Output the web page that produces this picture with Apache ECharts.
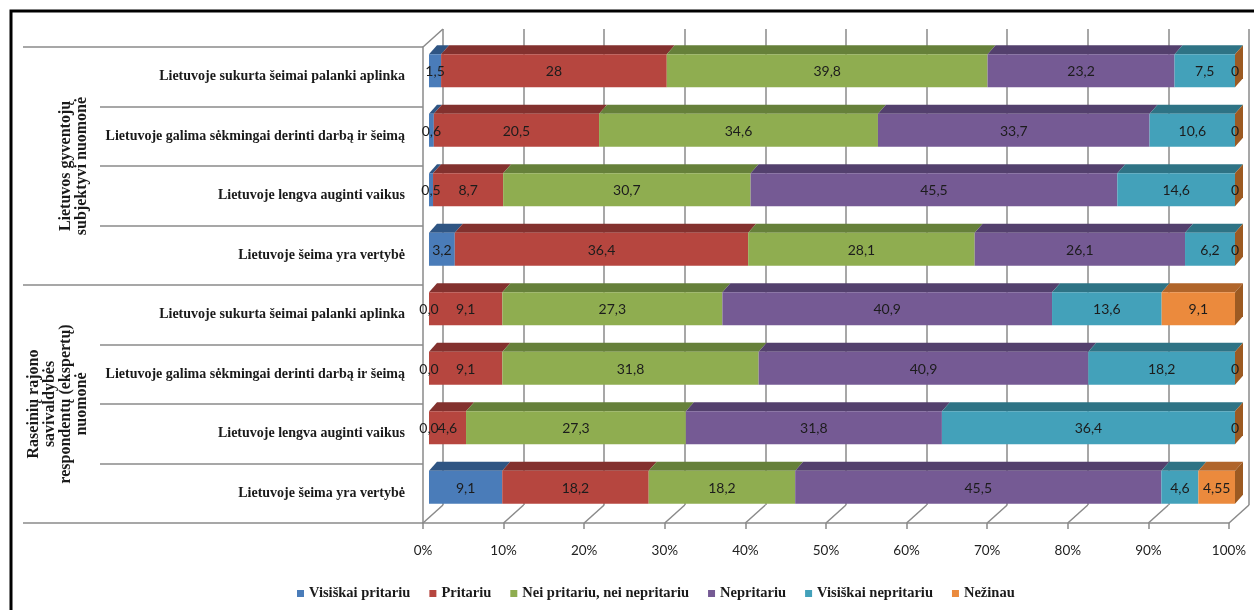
<!DOCTYPE html>
<html>
<head>
<meta charset="utf-8">
<script src="https://cdn.jsdelivr.net/npm/echarts@6/dist/echarts.min.js"></script>
<style>
  html, body { margin: 0; padding: 0; background: #fff; }
  #chart { width: 1254px; height: 610px; }
</style>
</head>
<body>
<div id="chart"></div>
<script>
// Statements (rows, top to bottom) and the two respondent groups
const statements = [
  'Lietuvoje sukurta šeimai palanki aplinka',
  'Lietuvoje galima sėkmingai derinti darbą ir šeimą',
  'Lietuvoje lengva auginti vaikus',
  'Lietuvoje šeima yra vertybė'
];
const rows = statements.concat(statements);
const groups = [
  'Lietuvos gyventojų\nsubjektyvi nuomonė',
  'Raseinių rajono\nsavivaldybės\nrespondentų (ekspertų)\nnuomonė'
];

// Answer shares, %, one array per answer, in row order (kept as written in the table)
const visiskaiPritariu   = ['1.5', '0.6', '0.5', '3.2', '0.0', '0.0', '0.0', '9.1'];
const pritariu           = ['28', '20.5', '8.7', '36.4', '9.1', '9.1', '4.6', '18.2'];
const neiPritariuNei     = ['39.8', '34.6', '30.7', '28.1', '27.3', '31.8', '27.3', '18.2'];
const nepritariu         = ['23.2', '33.7', '45.5', '26.1', '40.9', '40.9', '31.8', '45.5'];
const visiskaiNepritariu = ['7.5', '10.6', '14.6', '6.2', '13.6', '18.2', '36.4', '4.6'];
const nezinau            = ['0', '0', '0', '0', '9.1', '0', '0', '4.55'];

const answerNames = ['Visiškai pritariu', 'Pritariu', 'Nei pritariu, nei nepritariu',
                     'Nepritariu', 'Visiškai nepritariu', 'Nežinau'];
const answerValues = [visiskaiPritariu, pritariu, neiPritariuNei, nepritariu, visiskaiNepritariu, nezinau];

const axisTicks = [0, 10, 20, 30, 40, 50, 60, 70, 80, 90, 100];

// Face colours: front, top, side
const frontColors = ['#4a7cb9', '#b6463f', '#8fad50', '#755a94', '#43a1ba', '#eb8a3d'];
const topColors   = ['#2f5583', '#83312e', '#66803a', '#53406d', '#2e7385', '#b0652b'];
const sideColor   = '#9c5a22';

const GRID_GRAY = '#8a8a8a';
// 3D look: depth offset of the back wall and of the bars within the box
const WALL_DX = 20, WALL_DY = -18;
const BAR_DX = 6, BAR_DY = -6;
const TOP_DX = 8, TOP_DY = -9;
const BAR_RATIO = 0.555;

// 100% stacked extents per row
const totals = rows.map((_, r) => answerValues.reduce((s, arr) => s + Number(arr[r]), 0));
const stacked = answerValues.map(() => []);
rows.forEach((_, r) => {
  let cum = 0;
  answerValues.forEach((arr, s) => {
    const v = Number(arr[r]);
    const start = cum / totals[r] * 100;
    cum += v;
    const end = cum / totals[r] * 100;
    stacked[s].push([r, start, end]);
  });
});

function barRenderer(s) {
  const last = s === answerValues.length - 1;
  return function (params, api) {
    const row = api.value(0);
    const a = api.coord([api.value(1), row]);
    const b = api.coord([api.value(2), row]);
    const h = api.size([0, 1])[1] * BAR_RATIO;
    const x0 = a[0] + BAR_DX, x1 = b[0] + BAR_DX;
    const yc = a[1] + BAR_DY;
    const yT = yc - h / 2, yB = yc + h / 2;
    const children = [];
    if (x1 - x0 > 0.05) {
      children.push({
        type: 'polygon',
        shape: { points: [[x0, yT], [x1, yT], [x1 + TOP_DX, yT + TOP_DY], [x0 + TOP_DX, yT + TOP_DY]] },
        style: { fill: topColors[s] }
      });
      children.push({
        type: 'rect',
        shape: { x: x0, y: yT, width: x1 - x0, height: h },
        style: { fill: frontColors[s] }
      });
    }
    if (last) {
      children.push({
        type: 'polygon',
        shape: { points: [[x1, yT], [x1 + TOP_DX, yT + TOP_DY], [x1 + TOP_DX, yB + TOP_DY], [x1, yB]] },
        style: { fill: sideColor }
      });
    }
    children.push({
      type: 'text',
      z2: 100,
      style: {
        text: answerValues[s][params.dataIndex].replace('.', ','),
        x: (x0 + x1) / 2, y: yc + 1,
        align: 'center', verticalAlign: 'middle',
        font: '14px Lato', fill: '#1c1c1c'
      }
    });
    return { type: 'group', children: children };
  };
}

// Floor lines running back from each tick, plus the top edge of the side wall
function floorRenderer(params, api) {
  const cs = params.coordSys;
  const x = api.coord([api.value(0), 0])[0];
  const yb = cs.y + cs.height;
  const children = [{
    type: 'line',
    shape: { x1: x, y1: yb, x2: x + WALL_DX, y2: yb + WALL_DY },
    style: { stroke: GRID_GRAY, lineWidth: 1.5 }
  }];
  if (params.dataIndex === 0) {
    children.push({
      type: 'line',
      shape: { x1: cs.x, y1: cs.y, x2: cs.x + WALL_DX, y2: cs.y + WALL_DY },
      style: { stroke: GRID_GRAY, lineWidth: 1.5 }
    });
  }
  return { type: 'group', children: children };
}

const series = [{
  type: 'custom',
  name: 'floor',
  xAxisIndex: 0, yAxisIndex: 0,
  silent: true,
  data: axisTicks.map(v => [v]),
  encode: { x: 0 },
  renderItem: floorRenderer,
  z: 1
}];
answerNames.forEach((name, s) => {
  series.push({
    type: 'custom',
    name: name,
    xAxisIndex: 0, yAxisIndex: 0,
    itemStyle: { color: frontColors[s] },
    data: stacked[s],
    encode: { x: [1, 2], y: 0 },
    renderItem: barRenderer(s),
    z: 3
  });
});

const chart = echarts.init(document.getElementById('chart'), null, { renderer: 'canvas' });
chart.setOption({
  animation: false,
  backgroundColor: '#ffffff',
  graphic: [{
    type: 'rect',
    shape: { x: 11, y: 11, width: 1250, height: 640 },
    style: { fill: 'none', stroke: '#000', lineWidth: 3 },
    silent: true
  }],
  grid: [
    { left: 423, top: 47, width: 806, height: 476 },
    { left: 423 + WALL_DX, top: 47 + WALL_DY, width: 806, height: 476 }
  ],
  xAxis: [{
    gridIndex: 0, type: 'value', min: 0, max: 100, interval: 10,
    axisLine: { show: true, lineStyle: { color: GRID_GRAY, width: 1.5 } },
    axisTick: { show: true, length: 6, lineStyle: { color: GRID_GRAY, width: 1.5 } },
    axisLabel: { formatter: '{value}%', margin: 21, fontSize: 13.5, fontFamily: 'Lato', color: '#222' },
    splitLine: { show: false }
  }, {
    gridIndex: 1, type: 'value', min: 0, max: 100, interval: 10,
    axisLine: { show: false }, axisTick: { show: false }, axisLabel: { show: false },
    splitLine: { show: true, lineStyle: { color: GRID_GRAY, width: 1.5 } }
  }],
  yAxis: [{
    gridIndex: 0, type: 'category', data: rows, inverse: true,
    axisLine: { show: true, lineStyle: { color: GRID_GRAY, width: 1.5 } },
    axisTick: { show: true, length: 323, lineStyle: { color: GRID_GRAY, width: 1.5 } },
    axisLabel: {
      interval: 0, margin: 18, fontSize: 14, fontWeight: 'bold',
      fontFamily: '"Liberation Serif", serif', color: '#1a1a1a'
    }
  }, {
    gridIndex: 0, type: 'category', data: groups, inverse: true, position: 'left',
    axisLine: { show: false },
    axisTick: { show: true, length: 400, lineStyle: { color: GRID_GRAY, width: 1.5 } },
    axisLabel: {
      interval: 0, rotate: 90, margin: 333, fontSize: 16, lineHeight: 16, fontWeight: 'bold',
      fontFamily: '"Liberation Serif", serif', color: '#1a1a1a'
    }
  }, {
    gridIndex: 1, type: 'value', show: false
  }],
  legend: {
    data: answerNames,
    left: 292, top: 581,
    icon: 'rect', itemWidth: 7, itemHeight: 7, itemGap: 19,
    textStyle: { fontSize: 14.5, fontWeight: 'bold', fontFamily: '"Liberation Serif", serif', color: '#1a1a1a' }
  },
  series: series
});
</script>
</body>
</html>
